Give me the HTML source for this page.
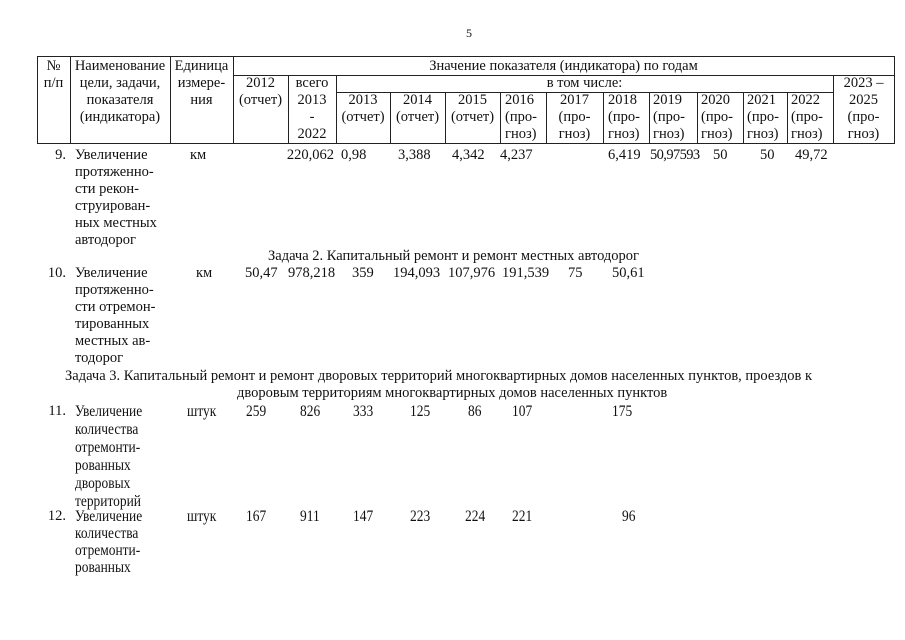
<!DOCTYPE html>
<html><head><meta charset="utf-8"><style>
html,body{margin:0;padding:0;background:#fff;}
body{width:905px;height:640px;position:relative;overflow:hidden;font-family:"Liberation Serif","DejaVu Serif",serif;font-size:14.5px;color:#111;}
.t{position:absolute;white-space:nowrap;line-height:17px;}
.c{position:absolute;white-space:nowrap;line-height:17px;text-align:center;}
.r{position:absolute;white-space:nowrap;line-height:17px;text-align:right;}
.h{position:absolute;background:#222;height:1px;}
.v{position:absolute;background:#222;width:1px;}
div.n{font-size:16px;transform:scaleX(0.84);transform-origin:left center;}
</style></head><body>
<div class="t" style="left:466px;top:25px;font-size:12px">5</div>

<div class="h" style="left:37px;width:857px;top:56px"></div>
<div class="h" style="left:233px;width:661px;top:75px"></div>
<div class="h" style="left:336px;width:497px;top:92px"></div>
<div class="h" style="left:37px;width:857px;top:143px"></div>
<div class="v" style="left:37px;top:56px;height:88px"></div>
<div class="v" style="left:70px;top:56px;height:88px"></div>
<div class="v" style="left:170px;top:56px;height:88px"></div>
<div class="v" style="left:233px;top:56px;height:88px"></div>
<div class="v" style="left:288px;top:75px;height:69px"></div>
<div class="v" style="left:336px;top:75px;height:69px"></div>
<div class="v" style="left:390px;top:92px;height:52px"></div>
<div class="v" style="left:445px;top:92px;height:52px"></div>
<div class="v" style="left:500px;top:92px;height:52px"></div>
<div class="v" style="left:546px;top:92px;height:52px"></div>
<div class="v" style="left:603px;top:92px;height:52px"></div>
<div class="v" style="left:649px;top:92px;height:52px"></div>
<div class="v" style="left:697px;top:92px;height:52px"></div>
<div class="v" style="left:743px;top:92px;height:52px"></div>
<div class="v" style="left:787px;top:92px;height:52px"></div>
<div class="v" style="left:833px;top:75px;height:69px"></div>
<div class="v" style="left:894px;top:56px;height:88px"></div>

<div class="c" style="left:37px;width:33px;top:58px">№<br>п/п</div>
<div class="c" style="left:70px;width:100px;top:58px">Наименование<br>цели, задачи,<br>показателя<br>(индикатора)</div>
<div class="c" style="left:170px;width:63px;top:58px">Единица<br>измере-<br>ния</div>
<div class="c" style="left:233px;width:661px;top:58px">Значение показателя (индикатора) по годам</div>
<div class="c" style="left:233px;width:55px;top:75px">2012<br>(отчет)</div>
<div class="c" style="left:288px;width:48px;top:75px">всего<br>2013<br>-<br>2022</div>
<div class="c" style="left:336px;width:497px;top:75px">в том числе:</div>
<div class="c" style="left:833px;width:61px;top:75px">2023 –<br>2025<br>(про-<br>гноз)</div>
<div class="c" style="left:336px;width:54px;top:92px">2013<br>(отчет)</div>
<div class="c" style="left:390px;width:55px;top:92px">2014<br>(отчет)</div>
<div class="c" style="left:445px;width:55px;top:92px">2015<br>(отчет)</div>
<div class="t" style="left:505px;top:92px">2016<br>(про-<br>гноз)</div>
<div class="c" style="left:546px;width:57px;top:92px">2017<br>(про-<br>гноз)</div>
<div class="t" style="left:608px;top:92px">2018<br>(про-<br>гноз)</div>
<div class="t" style="left:653px;top:92px">2019<br>(про-<br>гноз)</div>
<div class="t" style="left:701px;top:92px">2020<br>(про-<br>гноз)</div>
<div class="t" style="left:747px;top:92px">2021<br>(про-<br>гноз)</div>
<div class="t" style="left:791px;top:92px">2022<br>(про-<br>гноз)</div>

<div class="r" style="left:30px;width:36px;top:147px">9.</div>
<div class="t" style="left:75px;top:147px">Увеличение<br>протяженно-<br>сти рекон-<br>струирован-<br>ных местных<br>автодорог</div>
<div class="t" style="left:190px;top:147px">км</div>
<div class="r" style="left:280px;width:54px;top:147px">220,062</div>
<div class="t" style="left:341px;top:147px">0,98</div>
<div class="t" style="left:398px;top:147px">3,388</div>
<div class="t" style="left:452px;top:147px">4,342</div>
<div class="t" style="left:500px;top:147px">4,237</div>
<div class="t" style="left:608px;top:147px">6,419</div>
<div class="t" style="left:650px;top:147px;letter-spacing:-0.6px">50,97593</div>
<div class="t" style="left:713px;top:147px">50</div>
<div class="t" style="left:760px;top:147px">50</div>
<div class="t" style="left:795px;top:147px">49,72</div>

<div class="t" style="left:268px;top:248px">Задача 2. Капитальный ремонт и ремонт местных автодорог</div>

<div class="r" style="left:30px;width:36px;top:265px">10.</div>
<div class="t" style="left:75px;top:265px">Увеличение<br>протяженно-<br>сти отремон-<br>тированных<br>местных ав-<br>тодорог</div>
<div class="t" style="left:196px;top:265px">км</div>
<div class="t" style="left:245px;top:265px">50,47</div>
<div class="t" style="left:288px;top:265px">978,218</div>
<div class="t" style="left:352px;top:265px">359</div>
<div class="t" style="left:393px;top:265px">194,093</div>
<div class="t" style="left:448px;top:265px">107,976</div>
<div class="t" style="left:502px;top:265px">191,539</div>
<div class="t" style="left:568px;top:265px">75</div>
<div class="t" style="left:612px;top:265px">50,61</div>

<div class="t" style="left:65px;top:368px">Задача 3. Капитальный ремонт и ремонт дворовых территорий многоквартирных домов населенных пунктов, проездов к</div>
<div class="t" style="left:237px;top:385px">дворовым территориям многоквартирных домов населенных пунктов</div>

<div class="r" style="left:30px;width:36px;top:403px">11.</div>
<div class="t n" style="left:75px;top:403px;line-height:18px">Увеличение<br>количества<br>отремонти-<br>рованных<br>дворовых<br>территорий</div>
<div class="t n" style="left:187px;top:403px">штук</div>
<div class="t n" style="left:246px;top:403px">259</div>
<div class="t n" style="left:300px;top:403px">826</div>
<div class="t n" style="left:353px;top:403px">333</div>
<div class="t n" style="left:410px;top:403px">125</div>
<div class="t n" style="left:468px;top:403px">86</div>
<div class="t n" style="left:512px;top:403px">107</div>
<div class="t n" style="left:612px;top:403px">175</div>

<div class="r" style="left:30px;width:36px;top:508px">12.</div>
<div class="t n" style="left:75px;top:508px;line-height:17px">Увеличение<br>количества<br>отремонти-<br>рованных</div>
<div class="t n" style="left:187px;top:508px">штук</div>
<div class="t n" style="left:246px;top:508px">167</div>
<div class="t n" style="left:300px;top:508px">911</div>
<div class="t n" style="left:353px;top:508px">147</div>
<div class="t n" style="left:410px;top:508px">223</div>
<div class="t n" style="left:465px;top:508px">224</div>
<div class="t n" style="left:512px;top:508px">221</div>
<div class="t n" style="left:622px;top:508px">96</div>
</body></html>
